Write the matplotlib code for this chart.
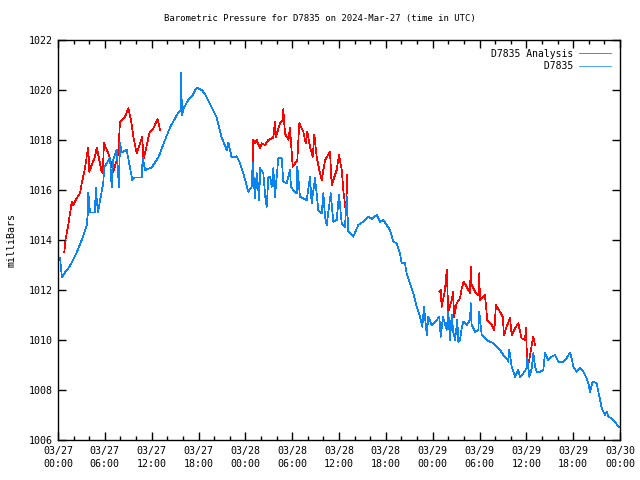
import matplotlib
matplotlib.use("Agg")
import matplotlib.pyplot as plt
from matplotlib.ticker import MultipleLocator, FixedLocator

# ---- data (hours since 2024-03-27 00:00 UTC, millibars) ----
blue_h = [0.0, 0.26, 0.5, 1.0, 1.3, 1.76, 2.40, 3.04, 3.68, 3.80, 3.88, 4.10, 4.74, 4.83, 5.12,
          5.80, 5.93, 6.66, 6.88, 7.05, 7.52, 7.81, 7.94, 8.16, 8.80, 9.22, 9.52, 9.86, 10.72,
          10.85, 11.15, 12.0, 12.85, 13.71, 14.35, 15.41, 15.70, 15.76, 15.89, 16.14, 16.69,
          17.17, 17.77, 18.41, 18.83, 19.22, 19.69, 20.33, 20.97, 21.61, 21.82, 22.25, 22.89,
          23.32, 23.74, 24.38, 24.82, 24.94, 25.24, 25.46, 25.79, 25.88, 26.30, 26.56, 26.74,
          26.94, 27.16, 27.38, 27.58, 27.80, 28.02, 28.22, 28.66, 28.86, 29.30, 29.72, 29.85,
          30.14, 30.58, 30.66, 31.00, 31.86, 32.28, 32.50, 32.93, 33.35, 33.78, 33.99, 34.21,
          34.42, 34.94, 35.27, 35.70, 36.0, 36.35, 36.77, 36.99, 37.19, 37.83, 38.47, 39.11,
          39.75, 40.23, 40.83, 41.25, 41.68, 42.11, 42.53, 42.96, 43.39, 43.81, 44.03, 44.46,
          44.67, 45.10, 45.52, 45.95, 46.38, 46.67, 46.89, 47.24, 47.44, 47.88, 48.52, 48.85,
          49.03, 49.32, 49.79, 50.0, 50.22, 50.44, 50.64, 50.86, 51.16, 51.28, 51.50, 51.72,
          51.93, 52.36, 52.79, 52.87, 53.0, 53.43, 53.85, 53.97, 54.28, 54.92, 55.77, 56.63,
          57.05, 57.48, 57.69, 57.82, 58.12, 58.55, 58.97, 59.19, 59.61, 60.04, 60.12, 60.38,
          60.69, 60.90, 61.11, 61.33, 61.75, 62.18, 62.39, 62.82, 63.25, 63.67, 64.10, 64.74,
          65.17, 65.59, 65.81, 66.02, 66.45, 66.88, 67.30, 67.73, 67.94, 68.16, 68.50, 69.01,
          69.44, 69.66, 70.08, 70.30, 70.51, 70.94, 71.37, 71.79, 72.0]
blue_p = [1013.3, 1013.3, 1012.5, 1012.75, 1012.85, 1013.1, 1013.5, 1014.0, 1014.6, 1015.0, 1015.9,
          1015.1, 1015.1, 1016.1, 1015.1, 1016.3, 1016.9, 1017.3, 1016.1, 1017.2, 1017.6, 1016.1,
          1017.9, 1017.5, 1017.6, 1016.9, 1016.4, 1016.5, 1016.5, 1017.3, 1016.8, 1016.9, 1017.3,
          1018.0, 1018.5, 1019.1, 1019.2, 1020.7, 1019.0, 1019.3, 1019.6, 1019.75, 1020.1, 1020.0,
          1019.85, 1019.6, 1019.3, 1018.9, 1018.1, 1017.6, 1017.9, 1017.3, 1017.35, 1017.07,
          1016.67, 1015.93, 1016.13, 1017.1, 1015.67, 1016.67, 1015.6, 1016.87, 1016.67, 1015.73,
          1015.33, 1016.5, 1016.53, 1016.13, 1016.87, 1015.73, 1016.53, 1017.27, 1017.27, 1016.33,
          1016.27, 1016.8, 1016.13, 1016.0, 1015.87, 1016.93, 1015.73, 1015.6, 1016.53, 1015.47,
          1016.47, 1015.2, 1015.07, 1015.87, 1014.93, 1014.6, 1015.87, 1014.73, 1014.8, 1015.8,
          1014.67, 1014.53, 1015.73, 1014.33, 1014.13, 1014.6, 1014.73, 1014.93, 1014.85, 1015.0,
          1014.73, 1014.8, 1014.6, 1014.4, 1013.93, 1013.87, 1013.47, 1013.07, 1013.07, 1012.67,
          1012.27, 1011.87, 1011.33, 1010.93, 1010.53, 1011.33, 1010.2, 1010.93, 1010.6, 1010.8,
          1010.93, 1010.13, 1010.93, 1010.4, 1011.13, 1010.0, 1011.0, 1010.33, 1010.0, 1010.8,
          1009.93, 1010.0, 1010.47, 1010.73, 1010.6, 1010.8, 1011.47, 1010.6, 1010.33, 1010.4,
          1011.13, 1010.2, 1010.0, 1009.87, 1009.6, 1009.4, 1009.27, 1009.13, 1009.6, 1008.93,
          1008.53, 1008.8, 1008.53, 1008.67, 1008.87, 1009.3, 1008.53, 1008.87, 1009.47, 1008.93,
          1008.73, 1008.73, 1008.8, 1009.47, 1009.2, 1009.33, 1009.4, 1009.13, 1009.13, 1009.27,
          1009.5, 1009.27, 1008.93, 1008.73, 1008.87, 1008.73, 1008.47, 1008.27, 1007.93, 1008.33,
          1008.27, 1007.6, 1007.27, 1007.0, 1007.13, 1006.93, 1006.87, 1006.73, 1006.53, 1006.53]

red1_h = [0.81, 0.99, 1.32, 1.54, 1.76, 1.96, 2.40, 2.82, 3.04, 3.46, 3.80, 3.88, 4.01, 4.32, 4.74,
          4.96, 5.16, 5.60, 5.73, 5.89, 6.44, 6.88, 7.08, 7.52, 7.73, 7.94, 8.58, 9.01, 9.35, 9.65,
          10.08, 10.51, 10.80, 10.93, 11.15, 11.70, 12.21, 12.77, 13.07]
red1_p = [1013.53, 1014.07, 1014.6, 1015.07, 1015.53, 1015.4, 1015.67, 1015.87, 1016.27, 1016.87,
          1017.6, 1017.7, 1016.73, 1017.0, 1017.33, 1017.7, 1017.4, 1016.73, 1016.67, 1017.87,
          1017.47, 1017.0, 1016.73, 1017.2, 1017.53, 1018.73, 1018.93, 1019.27, 1018.8, 1018.13,
          1017.47, 1017.87, 1018.13, 1017.2, 1017.47, 1018.27, 1018.47, 1018.83, 1018.4]

red2_h = [24.94, 25.02, 25.24, 25.46, 25.88, 26.10, 26.52, 26.94, 27.58, 27.80, 27.93, 28.44, 28.78,
          28.86, 29.08, 29.52, 29.72, 30.07, 30.66, 30.91, 31.43, 31.73, 31.94, 32.28, 32.63, 32.84,
          33.14, 33.48, 33.78, 34.21, 34.85, 35.06, 35.70, 36.0, 36.35, 36.55, 36.90, 37.06]
red2_p = [1016.53, 1018.0, 1017.87, 1018.0, 1017.67, 1017.87, 1017.8, 1018.0, 1018.1, 1018.73,
          1018.13, 1018.67, 1018.8, 1019.23, 1018.27, 1018.0, 1018.47, 1016.93, 1017.2, 1018.67,
          1018.33, 1017.87, 1018.33, 1017.73, 1017.33, 1018.2, 1017.33, 1016.8, 1016.4, 1017.2,
          1017.53, 1016.2, 1016.8, 1017.4, 1016.8, 1016.0, 1015.07, 1016.6]

red3_h = [48.85, 49.03, 49.15, 49.58, 49.80, 50.0, 50.44, 50.64, 50.73, 51.08, 51.50, 51.72, 51.98,
          52.36, 52.79, 52.87, 53.0, 53.43, 53.85, 53.97, 54.06, 54.70, 55.0, 55.56, 55.90, 56.11,
          56.63, 56.97, 57.14, 57.48, 57.91, 58.12, 58.55, 58.97, 59.39, 59.82, 59.95, 60.12,
          60.38, 60.69, 60.90, 61.11]
red3_p = [1011.93, 1012.0, 1011.33, 1012.0, 1012.8, 1011.13, 1011.6, 1011.93, 1010.93, 1011.47,
          1011.67, 1012.07, 1012.33, 1012.13, 1011.87, 1012.93, 1012.2, 1011.93, 1011.8, 1012.67,
          1011.6, 1011.8, 1010.8, 1010.6, 1010.4, 1011.4, 1011.13, 1010.93, 1010.2, 1010.53,
          1010.87, 1010.2, 1010.47, 1010.67, 1010.07, 1010.0, 1010.47, 1008.93, 1009.2, 1009.8,
          1010.13, 1009.8]

tick_hours = list(range(0, 73, 6))
tick_labels = ["03/27\n00:00", "03/27\n06:00", "03/27\n12:00", "03/27\n18:00",
               "03/28\n00:00", "03/28\n06:00", "03/28\n12:00", "03/28\n18:00",
               "03/29\n00:00", "03/29\n06:00", "03/29\n12:00", "03/29\n18:00",
               "03/30\n00:00"]
y_ticks = list(range(1006, 1023, 2))

title = "Barometric Pressure for D7835 on 2024-Mar-27 (time in UTC)"
label_red = "D7835 Analysis"
label_blue = "D7835"

RED = "#ff0000"
BLUE = "#0a84f0"
FONT = "DejaVu Sans Mono"
LW = 0.5

fig = plt.figure(figsize=(6.4, 4.8), dpi=100)
ax = fig.add_axes([58/640, 40/480, 562/640, 400/480])

first = True
for hh, pp in [(red1_h, red1_p), (red2_h, red2_p), (red3_h, red3_p)]:
    ax.plot(hh, pp, color=RED, lw=LW, antialiased=False,
            label=label_red if first else None)
    first = False
ax.plot(blue_h, blue_p, color=BLUE, lw=LW, antialiased=False,
        label=label_blue.rjust(len(label_red)))

ax.set_xlim(0, 72)
ax.set_ylim(1006, 1022)
ax.xaxis.set_major_locator(FixedLocator(tick_hours))
ax.set_xticklabels(tick_labels, fontfamily=FONT, fontsize=7.2, linespacing=1.45)
ax.xaxis.set_minor_locator(MultipleLocator(2))
ax.set_yticks(y_ticks)
ax.set_yticklabels([str(v) for v in y_ticks], fontfamily=FONT, fontsize=7.2)

ax.tick_params(axis="both", which="both", direction="in", top=True, right=True, width=1.0)
ax.tick_params(axis="both", which="major", length=6, pad=4)
ax.tick_params(axis="x", which="minor", length=3)
ax.tick_params(axis="y", which="minor", left=False, right=False)
for s in ax.spines.values():
    s.set_linewidth(1.0)

ax.set_ylabel("milliBars", fontfamily=FONT, fontsize=7.2)
ax.yaxis.set_label_coords(-0.073, 0.5)
fig.text(0.5, 1 - 19/480, title, ha="center", va="center", fontfamily=FONT, fontsize=6.5)

leg = ax.legend(loc="upper right", frameon=False, markerfirst=False,
                prop={"family": FONT, "size": 7.0}, handlelength=3.3,
                handletextpad=0.6, labelspacing=0.25, borderaxespad=0.5)

fig.savefig("out.png", dpi=100)
